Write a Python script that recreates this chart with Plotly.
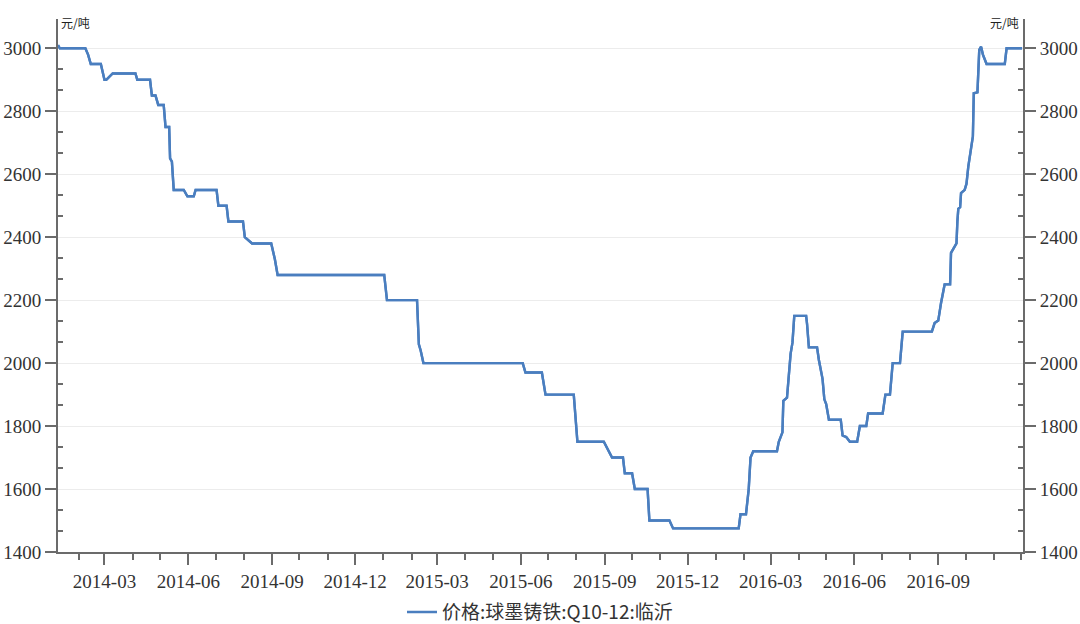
import plotly.graph_objects as go

# ---- data ----
dates = [
    "2014-01-09", "2014-01-11", "2014-02-08", "2014-02-11", "2014-02-14", "2014-02-25",
    "2014-03-01", "2014-03-03", "2014-03-10", "2014-04-04", "2014-04-06", "2014-04-20",
    "2014-04-22", "2014-04-26", "2014-04-29", "2014-05-05", "2014-05-07", "2014-05-11",
    "2014-05-12", "2014-05-14", "2014-05-16", "2014-05-27", "2014-05-31", "2014-06-07",
    "2014-06-09", "2014-07-02", "2014-07-04", "2014-07-13", "2014-07-15", "2014-07-31",
    "2014-08-02", "2014-08-10", "2014-08-31", "2014-09-04", "2014-09-07", "2015-01-02",
    "2015-01-05", "2015-02-07", "2015-02-09", "2015-02-11", "2015-02-14", "2015-06-03",
    "2015-06-06", "2015-06-24", "2015-06-28", "2015-07-29", "2015-08-02", "2015-08-31",
    "2015-09-09", "2015-09-21", "2015-09-23", "2015-10-01", "2015-10-04", "2015-10-18",
    "2015-10-20", "2015-11-11", "2015-11-15", "2016-01-26", "2016-01-28", "2016-02-03",
    "2016-02-06", "2016-02-08", "2016-02-11",
    "2016-03-08", "2016-03-10", "2016-03-14", "2016-03-15", "2016-03-19", "2016-03-21",
    "2016-03-23", "2016-03-25", "2016-03-27", "2016-04-09", "2016-04-10", "2016-04-12",
    "2016-04-21", "2016-04-23", "2016-04-25", "2016-04-27", "2016-04-29", "2016-05-01",
    "2016-05-04", "2016-05-17", "2016-05-19", "2016-05-23", "2016-05-27", "2016-06-04",
    "2016-06-07", "2016-06-14", "2016-06-16", "2016-07-02", "2016-07-05", "2016-07-10",
    "2016-07-13", "2016-07-21", "2016-07-24", "2016-08-25", "2016-08-28", "2016-09-01",
    "2016-09-04", "2016-09-06", "2016-09-08", "2016-09-14", "2016-09-15", "2016-09-18",
    "2016-09-21", "2016-09-22", "2016-09-23", "2016-09-25", "2016-09-26", "2016-09-30",
    "2016-10-02", "2016-10-04", "2016-10-06", "2016-10-08", "2016-10-09", "2016-10-10",
    "2016-10-14", "2016-10-16", "2016-10-18", "2016-10-20", "2016-10-24", "2016-11-13",
    "2016-11-15", "2016-12-02",
]
prices = [
    3010, 3000, 3000, 2980, 2950, 2950,
    2900, 2900, 2920, 2920, 2900, 2900,
    2850, 2850, 2820, 2820, 2750, 2750,
    2650, 2640, 2550, 2550, 2530, 2530,
    2550, 2550, 2500, 2500, 2450, 2450,
    2400, 2380, 2380, 2330, 2280, 2280,
    2200, 2200, 2060, 2040, 2000, 2000,
    1970, 1970, 1900, 1900, 1750, 1750,
    1700, 1700, 1650, 1650, 1600, 1600,
    1500, 1500, 1475, 1475, 1520, 1520,
    1600, 1700, 1720,
    1720, 1750, 1780, 1880, 1890, 1960,
    2030, 2065, 2150, 2150, 2125, 2050,
    2050, 2010, 1975, 1950, 1885, 1870,
    1820, 1820, 1770, 1765, 1750, 1750,
    1800, 1800, 1840, 1840, 1900, 1900,
    2000, 2000, 2100, 2100, 2127, 2135,
    2190, 2222, 2250, 2250, 2350, 2365,
    2380, 2450, 2490, 2495, 2540, 2550,
    2570, 2625, 2667, 2710, 2720, 2857,
    2860, 2995, 3005, 2980, 2950, 2950,
    3000, 3000,
]
series_name = "价格:球墨铸铁:Q10-12:临沂"
unit_label = "元/吨"
x_tickvals = ["2014-03-01", "2014-06-01", "2014-09-01", "2014-12-01", "2015-03-01",
              "2015-06-01", "2015-09-01", "2015-12-01", "2016-03-01", "2016-06-01",
              "2016-09-01"]
x_ticktext = ["2014-03", "2014-06", "2014-09", "2014-12", "2015-03", "2015-06",
              "2015-09", "2015-12", "2016-03", "2016-06", "2016-09"]
y_tickvals = [1400, 1600, 1800, 2000, 2200, 2400, 2600, 2800, 3000]

# ---- styling ----
AX = "#6b6b6b"
LINE = "#4a7ebf"
tick_font = dict(family="Liberation Serif, DejaVu Serif, serif", size=19, color="#333333")
y_minor = [v + d for v in y_tickvals[:-1] for d in (200 / 3, 400 / 3)]
y_range = [1400, 3093]

fig = go.Figure()
fig.add_trace(go.Scatter(x=dates, y=prices, mode="lines", name=series_name,
                         line=dict(color=LINE, width=2.4)))
fig.add_trace(go.Scatter(x=dates, y=prices, mode="lines", yaxis="y2", showlegend=False,
                         hoverinfo="skip", line=dict(color=LINE, width=2.4)))

yax = dict(range=y_range, tickmode="array", tickvals=y_tickvals, ticks="outside",
           ticklen=11, tickwidth=2, tickcolor=AX, showline=True, linecolor=AX,
           linewidth=2, zeroline=False, tickfont=tick_font, automargin=False,
           minor=dict(tickmode="array", tickvals=y_minor, ticks="inside", ticklen=5,
                      tickwidth=2, tickcolor=AX, showgrid=False))

fig.update_layout(
    width=1080, height=624,
    margin=dict(l=58, r=57, t=19, b=72),
    paper_bgcolor="white", plot_bgcolor="white",
    xaxis=dict(type="date", range=["2014-01-09", "2016-12-03"], tickmode="array",
               tickvals=x_tickvals, ticktext=x_ticktext, ticks="outside", ticklen=11,
               tickwidth=2, tickcolor=AX, showline=True, linecolor=AX, linewidth=2,
               showgrid=False, zeroline=False, tickfont=tick_font, automargin=False,
               minor=dict(dtick="M1", tick0="2014-01-01", ticks="outside", ticklen=6,
                          tickwidth=2, tickcolor=AX, showgrid=False)),
    yaxis=dict(**yax, side="left", showgrid=True, gridcolor="#ececec", gridwidth=1),
    yaxis2=dict(**yax, side="right", overlaying="y", showgrid=False),
    showlegend=True,
    legend=dict(orientation="h", xref="container", yref="container", x=0.5,
                xanchor="center", y=0.019, yanchor="middle",
                font=dict(family="Noto Sans CJK SC", size=19, color="#333333"),
                bgcolor="rgba(0,0,0,0)"),
    annotations=[
        dict(text=unit_label, xref="paper", yref="paper", x=0, y=1, xanchor="left",
             yanchor="middle", xshift=1, yshift=-3, showarrow=False,
             font=dict(family="Noto Sans CJK SC", size=12, color="#222222")),
        dict(text=unit_label, xref="paper", yref="paper", x=1, y=1, xanchor="right",
             yanchor="middle", xshift=-2, yshift=-3, showarrow=False,
             font=dict(family="Noto Sans CJK SC", size=12, color="#222222")),
    ],
)

fig.write_html("out.html", config={"displayModeBar": False},
               post_script="document.body.style.margin='0';document.body.style.overflow='hidden';")
